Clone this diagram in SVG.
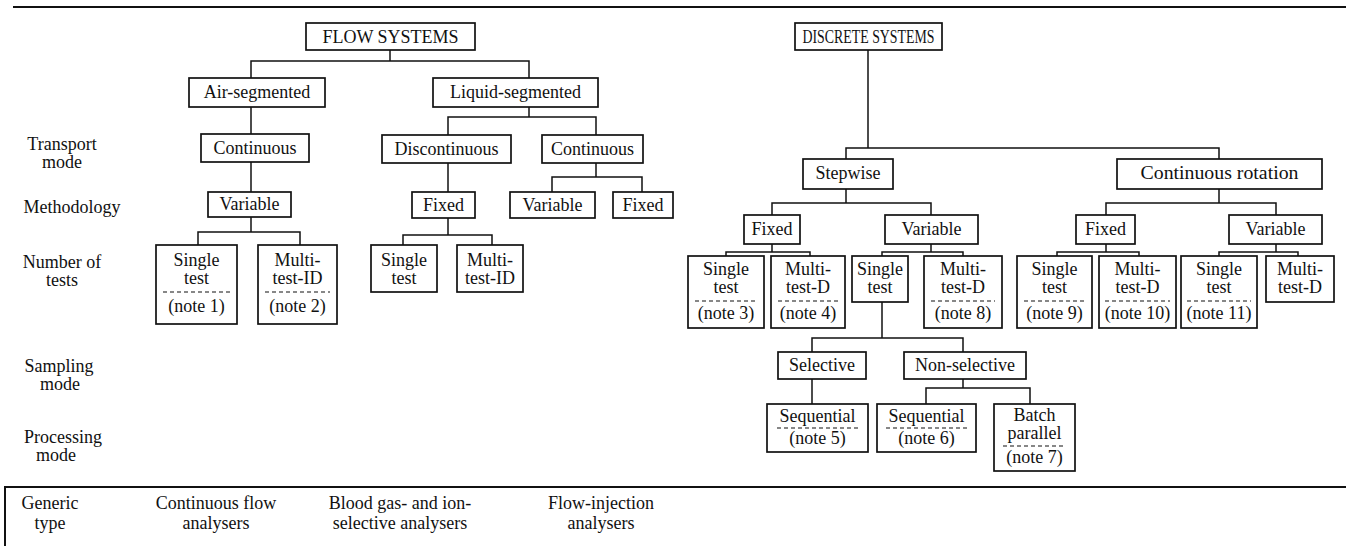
<svg xmlns="http://www.w3.org/2000/svg" width="1346" height="546" viewBox="0 0 1346 546">
<style>
text{font-family:"Liberation Serif","Times New Roman",serif;font-size:18px;fill:#111;text-anchor:middle}
.box{fill:#fff;stroke:#111;stroke-width:1.7}
.rule{stroke:#111;stroke-width:2;fill:none}
.con{stroke:#111;stroke-width:1.5;fill:none}
.dash{stroke:#111;stroke-width:1.2;stroke-dasharray:4 3;fill:none}
</style>
<rect width="1346" height="546" fill="#fff"/>
<g id="frame">
<line class="rule" x1="13" y1="7" x2="1346" y2="7"/>
<polyline class="rule" points="5,546 5,487 1346,487"/>
</g>
<g id="row-labels">
<text x="62" y="150">Transport</text><text x="62" y="168">mode</text>
<text x="72" y="213">Methodology</text>
<text x="62" y="268">Number of</text><text x="62" y="286">tests</text>
<text x="59" y="372">Sampling</text><text x="60" y="390">mode</text>
<text x="63" y="443">Processing</text><text x="56" y="461">mode</text>
<text x="50" y="509">Generic</text><text x="50" y="529">type</text>
<text x="216" y="509">Continuous flow</text><text x="216" y="529">analysers</text>
<text x="400" y="509">Blood gas- and ion-</text><text x="400" y="529">selective analysers</text>
<text x="601" y="509">Flow-injection</text><text x="601" y="529">analysers</text>
</g>
<g id="connectors">
<polyline class="con" points="390,50 390,61"/>
<polyline class="con" points="251,78 251,61 529,61 529,78"/>
<polyline class="con" points="251,107 251,134"/>
<polyline class="con" points="529,107 529,117"/>
<polyline class="con" points="448,135 448,117 596,117 596,135"/>
<polyline class="con" points="251,162 251,192"/>
<polyline class="con" points="448,163 448,192"/>
<polyline class="con" points="596,163 596,177"/>
<polyline class="con" points="552,192 552,177 642,177 642,192"/>
<polyline class="con" points="251,217 251,232"/>
<polyline class="con" points="198,245 198,232 300,232 300,245"/>
<polyline class="con" points="448,218 448,235"/>
<polyline class="con" points="403,245 403,235 492,235 492,245"/>
<polyline class="con" points="868,50 868,148"/>
<polyline class="con" points="846,159 846,148 1219,148 1219,159"/>
<polyline class="con" points="846,189 846,203"/>
<polyline class="con" points="772,215 772,203 931,203 931,215"/>
<polyline class="con" points="1219,189 1219,203"/>
<polyline class="con" points="1106,215 1106,203 1276,203 1276,215"/>
<polyline class="con" points="772,244 772,252"/>
<polyline class="con" points="726,256 726,252 810,252 810,256"/>
<polyline class="con" points="931,244 931,252"/>
<polyline class="con" points="882,256 882,252 963,252 963,256"/>
<polyline class="con" points="1106,244 1106,252"/>
<polyline class="con" points="1057,256 1057,252 1139,252 1139,256"/>
<polyline class="con" points="1276,244 1276,252"/>
<polyline class="con" points="1219,256 1219,252 1298,252 1298,256"/>
<polyline class="con" points="882,302 882,338"/>
<polyline class="con" points="812,352 812,338 963,338 963,352"/>
<polyline class="con" points="812,379 812,404"/>
<polyline class="con" points="963,379 963,388"/>
<polyline class="con" points="926,404 926,388 1030,388 1030,404"/>
</g>
<g id="flow-systems"><rect class="box" x="306" y="23" width="169" height="27"/><text x="390.5" y="43">FLOW SYSTEMS</text></g>
<g id="air-segmented"><rect class="box" x="189" y="78" width="136" height="29"/><text x="257" y="98">Air-segmented</text></g>
<g id="liquid-segmented"><rect class="box" x="433" y="78" width="165" height="29"/><text x="515.5" y="98">Liquid-segmented</text></g>
<g id="air-continuous"><rect class="box" x="201" y="134" width="108" height="28"/><text x="255" y="154">Continuous</text></g>
<g id="liq-discontinuous"><rect class="box" x="382" y="135" width="129" height="28"/><text x="446.5" y="155">Discontinuous</text></g>
<g id="liq-continuous"><rect class="box" x="542" y="135" width="101" height="28"/><text x="592.5" y="155">Continuous</text></g>
<g id="air-variable"><rect class="box" x="208" y="192" width="83" height="25"/><text x="249.5" y="210">Variable</text></g>
<g id="disc-fixed"><rect class="box" x="412" y="192" width="63" height="26"/><text x="443.5" y="211">Fixed</text></g>
<g id="cont-variable"><rect class="box" x="510" y="192" width="85" height="26"/><text x="552.5" y="211">Variable</text></g>
<g id="cont-fixed"><rect class="box" x="613" y="192" width="60" height="26"/><text x="643" y="211">Fixed</text></g>
<g id="air-single"><rect class="box" x="156" y="245" width="81" height="79"/><text x="196.5" y="266">Single</text><text x="196.5" y="284">test</text><line class="dash" x1="163" y1="292" x2="230" y2="292"/><text x="196.5" y="312">(note 1)</text></g>
<g id="air-multi"><rect class="box" x="258" y="245" width="79" height="79"/><text x="297.5" y="266">Multi-</text><text x="297.5" y="284">test-ID</text><line class="dash" x1="265" y1="292" x2="330" y2="292"/><text x="297.5" y="312">(note 2)</text></g>
<g id="liq-single"><rect class="box" x="371" y="245" width="66" height="47"/><text x="404" y="266">Single</text><text x="404" y="284">test</text></g>
<g id="liq-multi"><rect class="box" x="457" y="245" width="66" height="47"/><text x="490" y="266">Multi-</text><text x="490" y="284">test-ID</text></g>
<g id="discrete-systems"><rect class="box" x="795" y="23" width="147" height="27"/><text x="868.5" y="43" textLength="132" lengthAdjust="spacingAndGlyphs">DISCRETE SYSTEMS</text></g>
<g id="stepwise"><rect class="box" x="803" y="159" width="90" height="30"/><text x="848" y="179">Stepwise</text></g>
<g id="cont-rotation"><rect class="box" x="1117" y="159" width="205" height="30"/><text x="1219.5" y="179" textLength="158" lengthAdjust="spacingAndGlyphs">Continuous rotation</text></g>
<g id="step-fixed"><rect class="box" x="744" y="215" width="56" height="29"/><text x="772" y="235">Fixed</text></g>
<g id="step-variable"><rect class="box" x="885" y="215" width="93" height="29"/><text x="931.5" y="235">Variable</text></g>
<g id="rot-fixed"><rect class="box" x="1076" y="215" width="59" height="29"/><text x="1105.5" y="235">Fixed</text></g>
<g id="rot-variable"><rect class="box" x="1229" y="215" width="93" height="29"/><text x="1275.5" y="235">Variable</text></g>
<g id="sf-single"><rect class="box" x="688" y="256" width="76" height="72"/><text x="726" y="275">Single</text><text x="726" y="293">test</text><line class="dash" x1="695" y1="301" x2="757" y2="301"/><text x="726" y="319">(note 3)</text></g>
<g id="sf-multi"><rect class="box" x="771" y="256" width="74" height="72"/><text x="808" y="275">Multi-</text><text x="808" y="293">test-D</text><line class="dash" x1="778" y1="301" x2="838" y2="301"/><text x="808" y="319">(note 4)</text></g>
<g id="sv-single"><rect class="box" x="852" y="256" width="56" height="46"/><text x="880" y="275">Single</text><text x="880" y="293">test</text></g>
<g id="sv-multi"><rect class="box" x="924" y="256" width="78" height="72"/><text x="963" y="275">Multi-</text><text x="963" y="293">test-D</text><line class="dash" x1="931" y1="301" x2="995" y2="301"/><text x="963" y="319">(note 8)</text></g>
<g id="rf-single"><rect class="box" x="1017" y="256" width="75" height="72"/><text x="1054.5" y="275">Single</text><text x="1054.5" y="293">test</text><line class="dash" x1="1024" y1="301" x2="1085" y2="301"/><text x="1054.5" y="319">(note 9)</text></g>
<g id="rf-multi"><rect class="box" x="1099" y="256" width="77" height="72"/><text x="1137.5" y="275">Multi-</text><text x="1137.5" y="293">test-D</text><line class="dash" x1="1105" y1="301" x2="1170" y2="301"/><text x="1137.5" y="319">(note 10)</text></g>
<g id="rv-single"><rect class="box" x="1181" y="256" width="76" height="72"/><text x="1219" y="275">Single</text><text x="1219" y="293">test</text><line class="dash" x1="1187" y1="301" x2="1251" y2="301"/><text x="1219" y="319">(note 11)</text></g>
<g id="rv-multi"><rect class="box" x="1266" y="256" width="68" height="46"/><text x="1300" y="275">Multi-</text><text x="1300" y="293">test-D</text></g>
<g id="selective"><rect class="box" x="778" y="352" width="88" height="27"/><text x="822" y="371">Selective</text></g>
<g id="non-selective"><rect class="box" x="904" y="352" width="122" height="27"/><text x="965" y="371">Non-selective</text></g>
<g id="seq-5"><rect class="box" x="767" y="404" width="101" height="48"/><text x="817.5" y="422">Sequential</text><line class="dash" x1="777" y1="428" x2="858" y2="428"/><text x="817.5" y="444">(note 5)</text></g>
<g id="seq-6"><rect class="box" x="877" y="404" width="99" height="48"/><text x="926.5" y="422">Sequential</text><line class="dash" x1="886" y1="428" x2="967" y2="428"/><text x="926.5" y="444">(note 6)</text></g>
<g id="batch"><rect class="box" x="994" y="404" width="81" height="67"/><text x="1034.5" y="421">Batch</text><text x="1034.5" y="439">parallel</text><line class="dash" x1="1003" y1="446" x2="1066" y2="446"/><text x="1034.5" y="463">(note 7)</text></g>
</svg>
